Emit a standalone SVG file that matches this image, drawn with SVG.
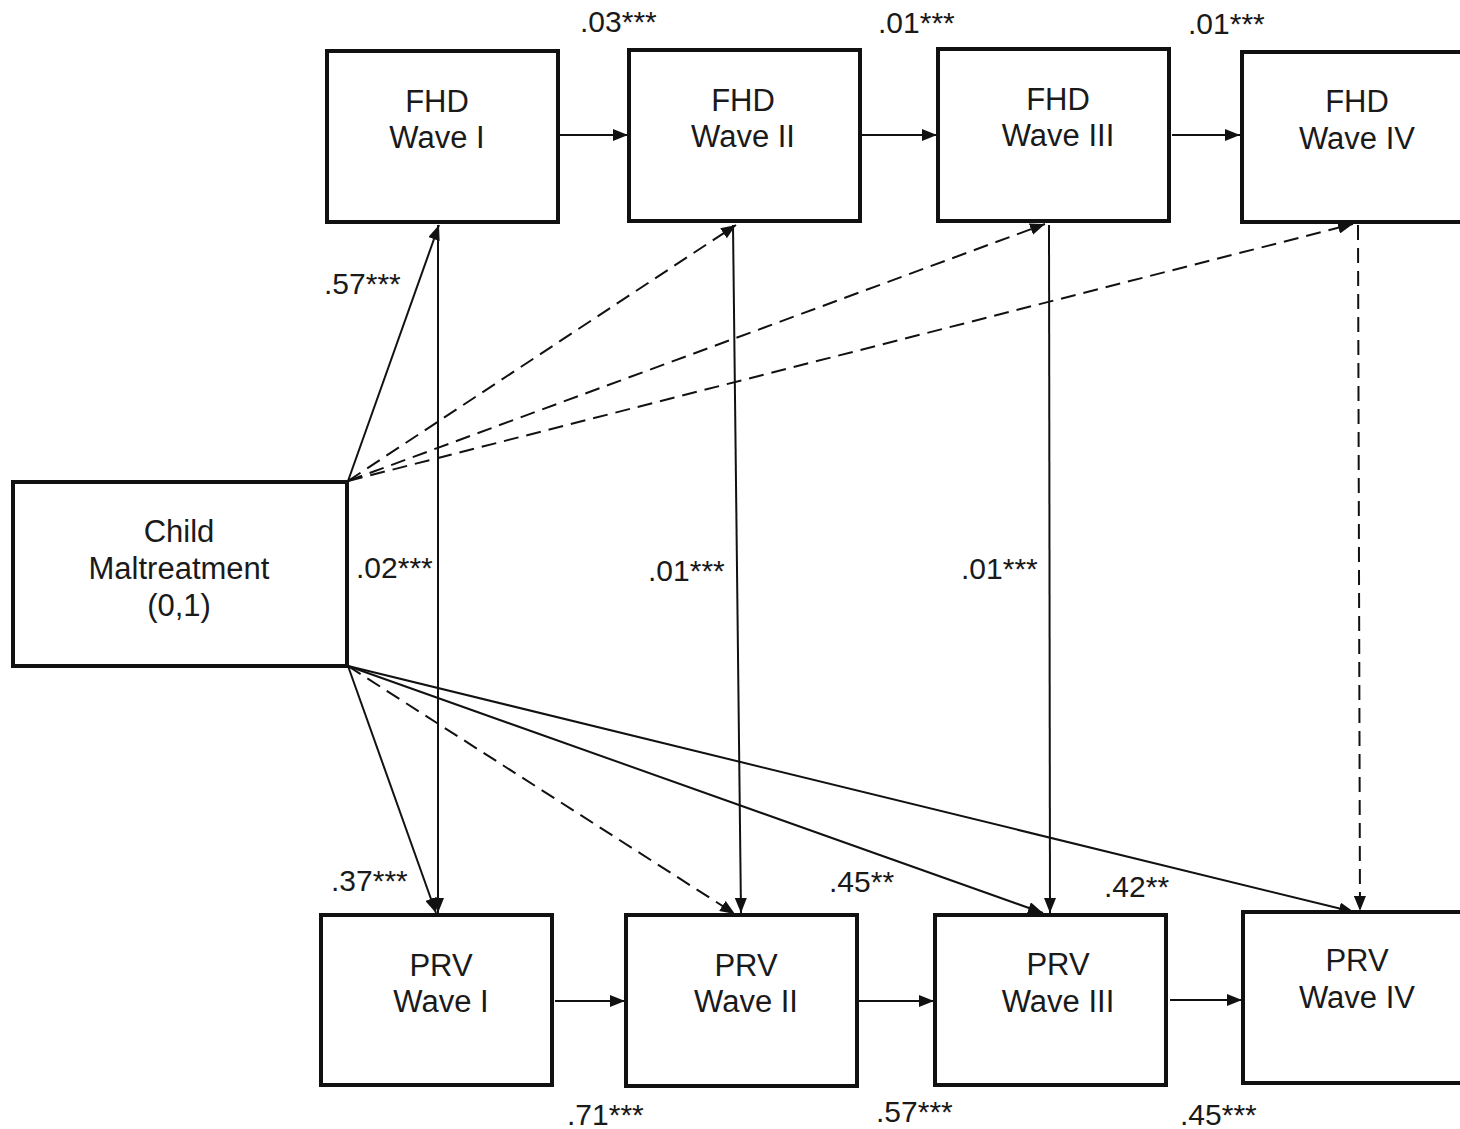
<svg xmlns="http://www.w3.org/2000/svg" width="1460" height="1129" viewBox="0 0 1460 1129">
<defs>
<marker id="ah" viewBox="0 0 15 12" refX="15" refY="6" markerWidth="15" markerHeight="12" markerUnits="userSpaceOnUse" orient="auto">
<path d="M0,0 L15,6 L0,12 Z" fill="#111"/>
</marker>
<style>
.box{fill:#fff;stroke:#111;stroke-width:4}
.t{font-family:"Liberation Sans",Arial,sans-serif;font-size:31px;fill:#1a1a1a;text-anchor:middle}
.lb{font-family:"Liberation Sans",Arial,sans-serif;font-size:30px;fill:#1a1a1a}
.c{fill:none;stroke:#111;stroke-width:2;marker-end:url(#ah)}
.d{stroke-dasharray:15 8}
</style>
</defs>
<rect width="1460" height="1129" fill="#fff"/>

<g id="connectors">
<line class="c" x1="560" y1="135" x2="628" y2="135"/>
<line class="c" x1="862" y1="135" x2="937" y2="135"/>
<line class="c" x1="1172" y1="135" x2="1240" y2="135"/>
<line class="c" x1="555" y1="1001" x2="625" y2="1001"/>
<line class="c" x1="859" y1="1001" x2="934" y2="1001"/>
<line class="c" x1="1170" y1="1000" x2="1242" y2="1000"/>

<line class="c" x1="348" y1="481" x2="439" y2="225"/>
<line class="c d" x1="348" y1="481" x2="736" y2="225"/>
<line class="c d" x1="348" y1="481" x2="1045" y2="224"/>
<line class="c d" x1="348" y1="481" x2="1353" y2="224"/>

<line class="c" x1="348" y1="666" x2="436" y2="913"/>
<line class="c d" x1="348" y1="666" x2="735" y2="914"/>
<line class="c" x1="348" y1="666" x2="1043" y2="913"/>
<line class="c" x1="348" y1="666" x2="1354" y2="912"/>

<line class="c" x1="438" y1="225" x2="438" y2="913"/>
<line class="c" x1="733" y1="225" x2="741" y2="913"/>
<line class="c" x1="1049" y1="225" x2="1050" y2="913"/>
<line class="c d" x1="1358" y1="225" x2="1360" y2="911"/>
</g>

<g id="fhd1"><rect class="box" x="327" y="51" width="231" height="171"/><text class="t" x="437" y="112">FHD</text><text class="t" x="437" y="148">Wave I</text></g>
<g id="fhd2"><rect class="box" x="629" y="50" width="231" height="171"/><text class="t" x="743" y="111">FHD</text><text class="t" x="743" y="147">Wave II</text></g>
<g id="fhd3"><rect class="box" x="938" y="49" width="231" height="172"/><text class="t" x="1058" y="110">FHD</text><text class="t" x="1058" y="146">Wave III</text></g>
<g id="fhd4"><rect class="box" x="1242" y="52" width="232" height="170"/><text class="t" x="1357" y="112">FHD</text><text class="t" x="1357" y="149">Wave IV</text></g>

<g id="child"><rect class="box" x="13" y="482" width="334" height="184"/><text class="t" x="179" y="542">Child</text><text class="t" x="179" y="579">Maltreatment</text><text class="t" x="179" y="616">(0,1)</text></g>

<g id="prv1"><rect class="box" x="321" y="915" width="231" height="170"/><text class="t" x="441" y="976">PRV</text><text class="t" x="441" y="1012">Wave I</text></g>
<g id="prv2"><rect class="box" x="626" y="915" width="231" height="171"/><text class="t" x="746" y="976">PRV</text><text class="t" x="746" y="1012">Wave II</text></g>
<g id="prv3"><rect class="box" x="935" y="915" width="231" height="170"/><text class="t" x="1058" y="975">PRV</text><text class="t" x="1058" y="1012">Wave III</text></g>
<g id="prv4"><rect class="box" x="1243" y="912" width="232" height="171"/><text class="t" x="1357" y="971">PRV</text><text class="t" x="1357" y="1008">Wave IV</text></g>

<g id="labels">
<text class="lb" x="580" y="32">.03***</text>
<text class="lb" x="878" y="33">.01***</text>
<text class="lb" x="1188" y="34">.01***</text>
<text class="lb" x="324" y="294">.57***</text>
<text class="lb" x="356" y="578">.02***</text>
<text class="lb" x="648" y="581">.01***</text>
<text class="lb" x="961" y="579">.01***</text>
<text class="lb" x="331" y="891">.37***</text>
<text class="lb" x="829" y="892">.45**</text>
<text class="lb" x="1104" y="897">.42**</text>
<text class="lb" x="567" y="1125">.71***</text>
<text class="lb" x="876" y="1122">.57***</text>
<text class="lb" x="1180" y="1125">.45***</text>
</g>
</svg>
